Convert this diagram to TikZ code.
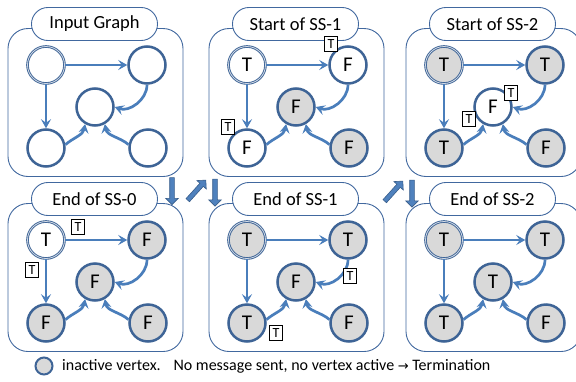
\documentclass[tikz,border=0pt]{standalone}
\usepackage{fontspec}
\setmainfont{Carlito}
\newfontfamily\symfont{DejaVu Sans}
\usetikzlibrary{arrows.meta,shapes.arrows}
\definecolor{nodeblue}{HTML}{3E6496}
\definecolor{edgeblue}{HTML}{4A7EBB}
\definecolor{boxblue}{HTML}{41689F}
\definecolor{inactgray}{HTML}{D9D9D9}
\definecolor{arrowfill}{HTML}{4F81BD}
\definecolor{arrowline}{HTML}{385D8A}

\tikzset{
  panelbox/.style={draw=boxblue, line width=0.9pt, rounded corners=20pt,
    minimum width=175pt, minimum height=148pt, fill=white},
  pill/.style={draw=boxblue, line width=0.9pt, fill=white, rounded corners=16.4pt,
    minimum width=126pt, minimum height=33pt, inner sep=0pt,
    font=\fontsize{18.5}{18.5}\selectfont},
  vtx/.style={circle, draw=nodeblue, line width=2.5pt, fill=white,
    minimum size=37pt, inner sep=0pt, font=\fontsize{21}{21}\selectfont},
  inact/.style={vtx, fill=inactgray},
  srcv/.style={line width=0.9pt, double=nodeblue!25, double distance=0.8pt},
  edge/.style={draw=edgeblue, line width=2.7pt,
    -{Stealth[length=9pt,width=10pt,inset=3.5pt]}},
  tagbox/.style={draw=black, line width=0.6pt, fill=white, minimum width=13pt,
    minimum height=15pt, inner sep=0pt, font=\fontsize{14}{14}\selectfont},
  blockarrow/.style={single arrow, draw=arrowline, fill=arrowfill, line width=0.6pt,
    inner sep=2pt, single arrow head extend=4pt, single arrow tip angle=90,
    minimum height=27pt}
}

% frame and title of one panel (local coordinates)
\newcommand\panelframe[2]{%
  \node[panelbox] (#1box) at (95.5,-102.5) {};
  \node[pill] (#1title) at (94.5,-24) {#2};
}
% the five edges of the sample graph
\newcommand\paneledges[1]{%
  \draw[edge] (#1tl) -- (#1tr);
  \draw[edge] (#1tl) -- (#1bl);
  \draw[edge] (#1tr.south) to[out=-90,in=-20] (#1c.east);
  \draw[edge] (#1bl.10) to[out=40,in=-100] (#1c.-120);
  \draw[edge] (#1br.170) to[out=140,in=-80] (#1c.-60);
}

\begin{document}
\begin{tikzpicture}[x=1pt,y=1pt]
\useasboundingbox (0,0) rectangle (576,-381);

% Input graph
\begin{scope}
  \panelframe{a}{Input Graph}
  \node[vtx,srcv] (atl) at (46,-65) {};
  \node[vtx] (atr) at (147,-65) {};
  \node[vtx] (ac) at (95,-107) {};
  \node[vtx] (abl) at (46,-148) {};
  \node[vtx] (abr) at (148,-148) {};
  \paneledges{a}
\end{scope}

% Start of SS-1
\begin{scope}[shift={(201,0)}]
  \panelframe{b}{Start of SS-1}
  \node[vtx,srcv] (btl) at (46,-65) {T};
  \node[vtx] (btr) at (147,-65) {F};
  \node[inact] (bc) at (95,-107) {F};
  \node[vtx] (bbl) at (46,-148) {F};
  \node[inact] (bbr) at (148,-148) {F};
  \paneledges{b}
  \node[tagbox] (bt1) at (130,-44) {T};
  \node[tagbox] (bt2) at (27,-127) {T};
\end{scope}

% Start of SS-2
\begin{scope}[shift={(398,0)}]
  \panelframe{c}{Start of SS-2}
  \node[inact,srcv] (ctl) at (46,-65) {T};
  \node[inact] (ctr) at (147,-65) {T};
  \node[vtx] (cc) at (95,-107) {F};
  \node[inact] (cbl) at (46,-148) {T};
  \node[inact] (cbr) at (148,-148) {F};
  \paneledges{c}
  \node[tagbox] (ct1) at (113,-93) {T};
  \node[tagbox] (ct2) at (71,-119) {T};
\end{scope}

% End of SS-0
\begin{scope}[shift={(0,-175)}]
  \panelframe{d}{End of SS-0}
  \node[vtx,srcv] (dtl) at (46,-65) {T};
  \node[inact] (dtr) at (147,-65) {F};
  \node[inact] (dc) at (95,-107) {F};
  \node[inact] (dbl) at (46,-148) {F};
  \node[inact] (dbr) at (148,-148) {F};
  \paneledges{d}
  \node[tagbox] (dt1) at (78,-52) {T};
  \node[tagbox] (dt2) at (32,-95) {T};
\end{scope}

% End of SS-1
\begin{scope}[shift={(201,-175)}]
  \panelframe{e}{End of SS-1}
  \node[inact,srcv] (etl) at (46,-65) {T};
  \node[inact] (etr) at (147,-65) {T};
  \node[inact] (ec) at (95,-107) {F};
  \node[inact] (ebl) at (46,-148) {T};
  \node[inact] (ebr) at (148,-148) {F};
  \paneledges{e}
  \node[tagbox] (et1) at (149,-101) {T};
  \node[tagbox] (et2) at (75,-158) {T};
\end{scope}

% End of SS-2
\begin{scope}[shift={(398,-175)}]
  \panelframe{f}{End of SS-2}
  \node[inact,srcv] (ftl) at (46,-65) {T};
  \node[inact] (ftr) at (147,-65) {T};
  \node[inact] (fc) at (95,-107) {T};
  \node[inact] (fbl) at (46,-148) {T};
  \node[inact] (fbr) at (148,-148) {F};
  \paneledges{f}
\end{scope}

% block arrows between the panels
\node[blockarrow, rotate=-90] (ar1) at (172,-190) {};
\node[blockarrow, rotate=48] (ar2) at (196,-191) {};
\node[blockarrow, rotate=-90] (ar3) at (215,-191.5) {};
\node[blockarrow, rotate=48] (ar4) at (393,-192) {};
\node[blockarrow, rotate=-90] (ar5) at (412,-192.5) {};

% legend
\node[inact, minimum size=17pt, line width=2pt] (legdot) at (44,-366) {};
\node[anchor=west, inner sep=0pt, font=\fontsize{16}{16}\selectfont] (legtext)
  at (62,-366) {inactive vertex.\hspace{8pt} No message sent, no vertex active {\symfont\fontsize{13}{13}\selectfont →} Termination};
\end{tikzpicture}
\end{document}
